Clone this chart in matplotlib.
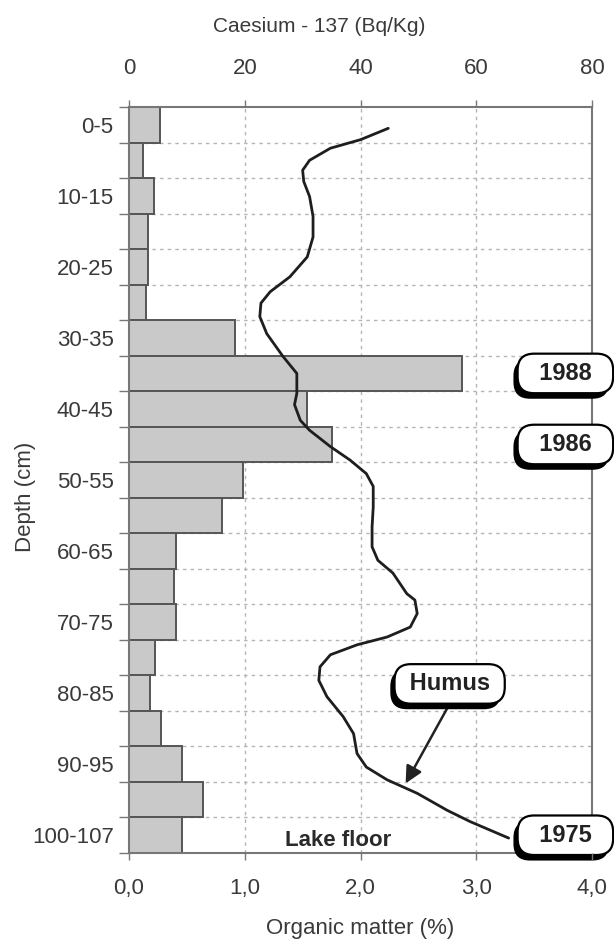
import matplotlib
matplotlib.use("Agg")
import matplotlib.pyplot as plt
from matplotlib import patheffects as pe

plt.rcParams['font.family'] = ['Liberation Sans', 'DejaVu Sans']

# Sediment core slices (5 cm each, last slice 100-107 cm)
depth_labels = ["0-5", "5-10", "10-15", "15-20", "20-25", "25-30", "30-35",
                "35-40", "40-45", "45-50", "50-55", "55-60", "60-65", "65-70",
                "70-75", "75-80", "80-85", "85-90", "90-95", "95-100", "100-107"]
slice_top = [0, 5, 10, 15, 20, 25, 30, 35, 40, 45, 50, 55, 60, 65, 70, 75,
             80, 85, 90, 95, 100]

# Caesium-137 activity per slice (Bq/Kg)
caesium = [5.3, 2.5, 4.3, 3.2, 3.2, 2.9, 18.4, 57.5, 30.7, 35.0, 19.7, 16.1,
           8.1, 7.8, 8.2, 4.5, 3.7, 5.6, 9.1, 12.7, 9.1]

# Organic matter profile: depth (cm) and content (%)
om_depth = [3.0, 4.6, 5.8, 7.5, 8.9, 10.5, 12.6, 15.4, 18.3, 21.1, 23.9, 26.0,
            27.6, 29.5, 31.9, 35.1, 37.5, 40.3, 41.9, 44.1, 45.5, 47.8, 49.7,
            51.6, 53.4, 56.3, 59.1, 61.9, 63.8, 65.6, 68.5, 69.4, 71.3, 73.2,
            74.6, 75.7, 77.1, 78.8, 80.7, 83.0, 85.8, 88.2, 91.0, 92.9, 94.7,
            96.6, 99.0, 100.6, 102.9]
om_value = [2.24, 2.00, 1.74, 1.56, 1.50, 1.51, 1.56, 1.59, 1.59, 1.54, 1.39,
            1.22, 1.14, 1.13, 1.19, 1.33, 1.45, 1.45, 1.43, 1.48, 1.56, 1.74,
            1.91, 2.05, 2.11, 2.11, 2.10, 2.10, 2.15, 2.28, 2.40, 2.47, 2.49,
            2.43, 2.23, 1.97, 1.74, 1.65, 1.64, 1.71, 1.85, 1.94, 1.97, 2.05,
            2.23, 2.49, 2.75, 2.95, 3.28]

# Dated horizons (label, depth of slice centre)
horizons = [("1988", 37.5), ("1986", 47.5), ("1975", 102.5)]

cs_ticks = [0, 20, 40, 60, 80]
om_ticks = [0.0, 1.0, 2.0, 3.0, 4.0]

text_col = "#3a3a3a"
frame_col = "#777777"
grid_col = "#b5b5b5"

fig = plt.figure(figsize=(6.14, 9.41), dpi=100)
ax = fig.add_axes([129 / 614, 1 - 853 / 941, 463 / 614, 746 / 941])
ax2 = ax.twiny()

heights = [5] * len(slice_top)
centers = [t + 2.5 for t in slice_top]
ax.barh(centers, caesium, height=heights, left=0, color="#c9c9c9",
        edgecolor="#555555", linewidth=1.4, zorder=3)

ax.set_xlim(0, 80)
ax.set_ylim(105, 0)

# Grid: dotted verticals at caesium ticks, horizontals at slice boundaries
for xv in cs_ticks[1:-1]:
    ax.axvline(xv, color=grid_col, lw=1.0, ls=(0, (2.5, 3)), zorder=1)
for yv in range(5, 105, 5):
    ax.axhline(yv, color=grid_col, lw=1.0, ls=(0, (2.5, 3)), zorder=1)

# Top axis: caesium
ax.xaxis.tick_top()
ax.xaxis.set_label_position('top')
ax.set_xticks(cs_ticks)
ax.set_xticklabels([str(v) for v in cs_ticks])
ax.tick_params(axis='x', which='major', direction='out', length=5, width=1,
               color=frame_col, labelsize=16, labelcolor=text_col, pad=15,
               top=True, bottom=False, labeltop=True, labelbottom=False)
ax.set_xlabel("Caesium - 137 (Bq/Kg)", fontsize=15, color=text_col,
              labelpad=19)
ax.xaxis.label.set_x(0.41)

# Left axis: slice boundaries ticked, every other slice labelled
ax.set_yticks(list(range(0, 110, 5)))
ax.set_yticklabels([])
ax.tick_params(axis='y', which='major', direction='out', length=7, width=1,
               color=frame_col)
label_pos = [centers[i] for i in range(0, len(centers), 2)]
label_txt = [depth_labels[i] for i in range(0, len(centers), 2)]
ax.set_yticks(label_pos, minor=True)
ax.set_yticklabels(label_txt, minor=True)
ax.tick_params(axis='y', which='minor', length=0, labelsize=16,
               labelcolor=text_col, pad=11)

for s in ax.spines.values():
    s.set_color(frame_col)
    s.set_linewidth(1.5)
    s.set_zorder(5)

# Bottom axis: organic matter
ax2.set_xlim(0, 4)
ax2.set_ylim(105, 0)
ax2.xaxis.tick_bottom()
ax2.xaxis.set_label_position('bottom')
ax2.set_xticks(om_ticks)
ax2.set_xticklabels([f"{v:.1f}".replace(".", ",") for v in om_ticks])
ax2.tick_params(axis='x', direction='out', length=5, width=1,
                color=frame_col, labelsize=16, labelcolor=text_col, pad=13,
                top=False, bottom=True, labeltop=False, labelbottom=True)
ax2.set_xlabel("Organic matter (%)", fontsize=16, color=text_col, labelpad=14)
for s in ax2.spines.values():
    s.set_visible(False)

ax2.plot(om_value, om_depth, color="#1e1e1e", lw=2.0, solid_joinstyle='round',
         solid_capstyle='round', zorder=6)

fig.text(25 / 614, 1 - 497 / 941, "Depth (cm)", rotation=90, fontsize=16,
         color=text_col, ha='center', va='center')

ax2.text(1.81, 103.2, "Lake floor", fontsize=16, fontweight='bold',
         color="#2a2a2a", ha='center', va='center', zorder=7)

shadow = [pe.SimplePatchShadow(offset=(-3, -4), shadow_rgbFace='black',
                               alpha=1.0), pe.Normal()]
box_style = dict(boxstyle="round,pad=0.35,rounding_size=0.7", fc="white",
                 ec="black", lw=1.6)

for label, d in horizons:
    t = ax.text(75.4, d, "  " + label + "  ", fontsize=17, fontweight='bold',
                color="#222222", ha='center', va='center', zorder=8,
                clip_on=False, bbox=dict(box_style))
    t.get_bbox_patch().set_path_effects(shadow)

ann = ax2.annotate(" Humus ", xy=(2.39, 95.2), xytext=(2.77, 81.2),
                   fontsize=17, fontweight='bold', color="#222222",
                   ha='center', va='center', zorder=8,
                   bbox=dict(box_style),
                   arrowprops=dict(arrowstyle="-|>,head_length=0.6,head_width=0.3",
                                   color="#222222", lw=1.8, shrinkA=0,
                                   shrinkB=0, relpos=(0.55, 0.0)))
ann.get_bbox_patch().set_path_effects(shadow)

fig.savefig("out.png", dpi=100, facecolor="white")
